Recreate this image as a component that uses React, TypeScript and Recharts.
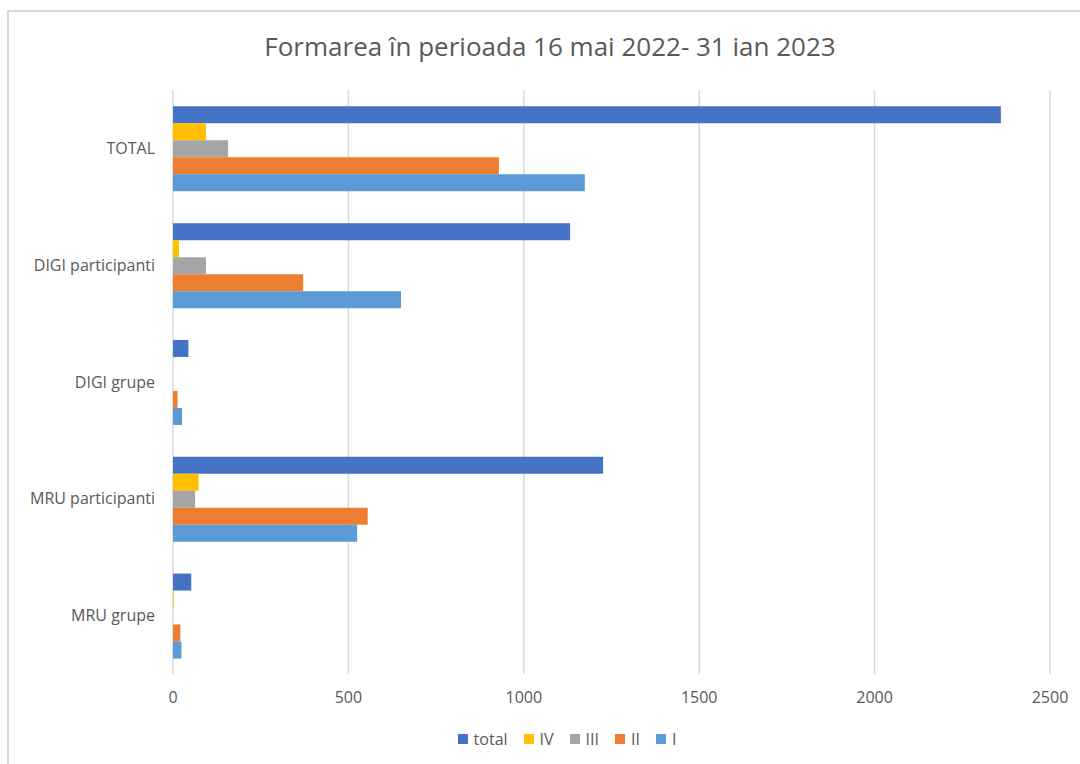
import React from 'react';
import {
  BarChart,
  Bar,
  XAxis,
  YAxis,
  CartesianGrid,
  Legend,
} from 'recharts';

const categories = ['TOTAL', 'DIGI participanti', 'DIGI grupe', 'MRU participanti', 'MRU grupe'];
const totalValues = [2360, 1132, 44, 1226, 52];
const ivValues = [94, 17, 0, 73, 2];
const iiiValues = [157, 94, 0, 63, 0];
const iiValues = [929, 371, 13, 555, 21];
const iValues = [1174, 650, 26, 525, 24];
const xTicks = [0, 500, 1000, 1500, 2000, 2500];

const seriesKeys = ['total', 'IV', 'III', 'II', 'I'];
const seriesColors = ['#4472C4', '#FFC000', '#A5A5A5', '#ED7D31', '#5B9BD5'];

const data = categories.map((name, i) => ({
  name,
  total: totalValues[i],
  IV: ivValues[i],
  III: iiiValues[i],
  II: iiValues[i],
  I: iValues[i],
}));

const FONT = '"Open Sans", sans-serif';
const TEXT = '#595959';

function LegendContent() {
  return (
    <div style={{ display: 'flex', justifyContent: 'center', paddingLeft: 100, fontFamily: FONT, fontSize: 16, color: TEXT }}>
      {seriesKeys.map((k, i) => (
        <div key={k} style={{ display: 'flex', alignItems: 'center', marginRight: 16 }}>
          <span style={{ display: 'inline-block', width: 10, height: 10, background: seriesColors[i], marginRight: 6 }} />
          <span>{k}</span>
        </div>
      ))}
    </div>
  );
}

export default function App() {
  return (
    <div style={{ position: 'relative', width: 1080, height: 764, background: '#fff', fontFamily: FONT, overflow: 'hidden' }}>
      <style>{`body{margin:0}`}</style>
      <div
        style={{
          position: 'absolute',
          top: 10,
          left: 7,
          width: 1100,
          height: 800,
          borderTop: '2px solid #d9d9d9',
          borderLeft: '2px solid #d9d9d9',
        }}
      />
      <div
        style={{
          position: 'absolute',
          top: 28,
          left: 0,
          width: 1100,
          textAlign: 'center',
          fontSize: 26,
          color: TEXT,
        }}
      >
        Formarea în perioada 16 mai 2022- 31 ian 2023
      </div>
      <BarChart
        width={1080}
        height={764}
        data={data}
        layout="vertical"
        margin={{ top: 90, right: 30, left: 0, bottom: 10 }}
        barCategoryGap="14%"
        barGap={0}
      >
        <CartesianGrid horizontal={false} stroke="#d9d9d9" strokeWidth={1.5} />
        <XAxis
          type="number"
          domain={[0, 2500]}
          ticks={xTicks}
          axisLine={false}
          tickLine={false}
          tick={{ fill: TEXT, fontSize: 16, fontFamily: FONT }}
          tickMargin={12}
          height={40}
        />
        <YAxis
          type="category"
          dataKey="name"
          width={173}
          axisLine={false}
          tickLine={false}
          tick={{ fill: TEXT, fontSize: 16, fontFamily: FONT }}
          tickMargin={12}
        />
        <Legend
          verticalAlign="bottom"
          align="center"
          height={40}
          content={() => <LegendContent />}
          wrapperStyle={{ top: 728 }}
        />
        {seriesKeys.map((k, i) => (
          <Bar key={k} dataKey={k} fill={seriesColors[i]} isAnimationActive={false} />
        ))}
      </BarChart>
    </div>
  );
}
